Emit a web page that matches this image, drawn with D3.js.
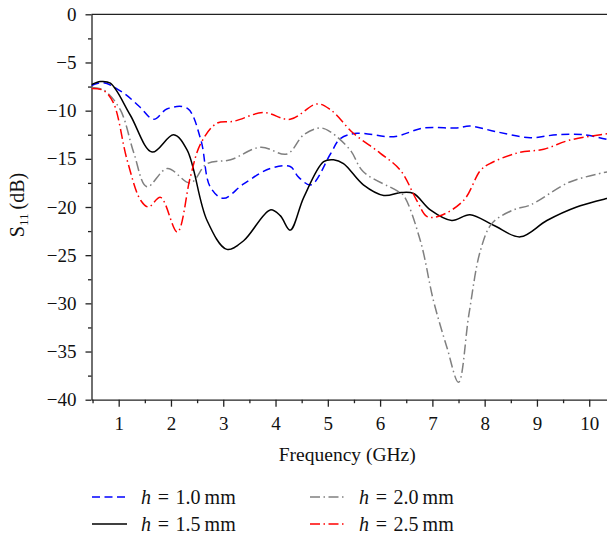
<!DOCTYPE html>
<html>
<head>
<meta charset="utf-8">
<script src="https://cdn.jsdelivr.net/npm/d3@7"></script>
<style>
  body { margin: 0; background: #fff; }
  svg text { font-family: "Liberation Serif", "DejaVu Serif", serif; fill: #111; }
</style>
</head>
<body>
<svg id="chart" width="607" height="537"></svg>
<script>
// S11 vs frequency for four substrate heights

const xTicks = [1, 2, 3, 4, 5, 6, 7, 8, 9, 10];
const yTicks = [0, -5, -10, -15, -20, -25, -30, -35, -40];

// h = 1.0 mm
const freq10 = [0.48, 0.71, 1.1, 1.4, 1.67, 1.93, 2.31, 2.57, 2.75, 3.0, 3.39, 3.9, 4.28, 4.44, 4.68, 5.05, 5.24, 5.56, 6.26, 6.83, 7.47, 7.72, 8.23, 8.87, 9.38, 9.89, 10.35];
const s10 = [-7.4, -7.1, -8.2, -9.6, -10.9, -9.8, -9.75, -13.0, -17.9, -19.1, -17.6, -16.0, -15.8, -16.9, -17.7, -14.5, -12.9, -12.35, -12.7, -11.8, -11.8, -11.6, -12.2, -12.8, -12.5, -12.5, -13.0];

// h = 1.5 mm
const freq15 = [0.48, 0.65, 0.84, 1.22, 1.64, 2.05, 2.31, 2.69, 3.07, 3.39, 3.9, 4.09, 4.28, 4.54, 4.92, 5.11, 5.3, 5.68, 6.07, 6.4, 6.64, 6.96, 7.37, 7.72, 8.17, 8.68, 9.19, 9.76, 10.35];
const s15 = [-7.3, -6.98, -7.15, -10.45, -14.3, -12.5, -14.1, -21.4, -24.4, -23.5, -20.3, -20.9, -22.4, -19.0, -15.3, -15.1, -15.5, -17.7, -18.8, -18.5, -18.6, -20.3, -21.4, -20.8, -21.9, -23.1, -21.4, -20.0, -19.1];

// h = 2.0 mm
const freq20 = [0.48, 0.71, 1.03, 1.29, 1.54, 1.93, 2.37, 2.69, 3.14, 3.71, 4.22, 4.54, 4.86, 5.05, 5.43, 5.68, 6.32, 6.45, 6.77, 7.02, 7.28, 7.5, 7.7, 7.92, 8.14, 8.55, 8.87, 9.63, 10.35];
const s20 = [-7.6, -7.85, -9.9, -14.4, -17.9, -16.0, -17.5, -15.5, -15.1, -13.8, -14.5, -12.5, -11.8, -12.2, -14.1, -16.35, -18.3, -18.8, -23.5, -29.7, -34.6, -38.2, -31.1, -24.5, -21.7, -20.3, -19.8, -17.4, -16.35];

// h = 2.5 mm
const freq25 = [0.48, 0.71, 0.9, 1.16, 1.42, 1.57, 1.8, 2.12, 2.37, 2.57, 2.88, 3.2, 3.77, 4.28, 4.79, 5.05, 5.49, 6.0, 6.39, 6.7, 6.9, 7.15, 7.6, 7.92, 8.1, 8.62, 9.13, 9.63, 10.35];
const s25 = [-7.7, -7.9, -9.2, -15.1, -19.3, -20.0, -19.0, -22.6, -16.9, -13.4, -11.3, -11.1, -10.2, -10.9, -9.3, -9.9, -12.35, -14.4, -16.2, -19.3, -21.0, -20.9, -19.3, -16.2, -15.5, -14.4, -14.0, -13.05, -12.4];

const seriesNames = ["1.0", "1.5", "2.0", "2.5"];

const series = [
  { name: seriesNames[0], f: freq10, v: s10, color: "#0000ff", dash: "8,4.5" },
  { name: seriesNames[1], f: freq15, v: s15, color: "#000000", dash: null },
  { name: seriesNames[2], f: freq20, v: s20, color: "#808080", dash: "10,3.5,1.5,3.5" },
  { name: seriesNames[3], f: freq25, v: s25, color: "#ff0000", dash: "10,3.5,1.5,3.5" }
];

const svg = d3.select("#chart");
const plotL = 91.5, plotR = 607, plotT = 14.3, plotB = 399.7;

const x = d3.scaleLinear().domain([0.48, 10.34]).range([plotL, plotR]);
const y = d3.scaleLinear().domain([-40, 0]).range([plotB, plotT]);

const fmt = d => d < 0 ? "\u2212" + Math.abs(d) : String(d);

// clip
svg.append("defs").append("clipPath").attr("id", "plot")
  .append("rect").attr("x", plotL).attr("y", plotT - 2).attr("width", plotR - plotL).attr("height", plotB - plotT + 4);

// x axis, major + minor
svg.append("g").attr("transform", `translate(0,${plotB})`)
  .call(d3.axisBottom(x).tickValues(xTicks).tickFormat(fmt).tickSize(7).tickSizeOuter(0).tickPadding(10));
svg.append("g").attr("transform", `translate(0,${plotB})`)
  .call(d3.axisBottom(x).tickValues(d3.range(0.5, 10.5, 1)).tickFormat("").tickSize(3.5))
  .call(g => g.select(".domain").remove());

// y axis, major + minor
svg.append("g").attr("transform", `translate(${plotL},0)`)
  .call(d3.axisLeft(y).tickValues(yTicks).tickFormat(fmt).tickSize(6).tickSizeOuter(0).tickPadding(9));
svg.append("g").attr("transform", `translate(${plotL},0)`)
  .call(d3.axisLeft(y).tickValues(d3.range(-37.5, 0, 5)).tickFormat("").tickSize(3.5))
  .call(g => g.select(".domain").remove());

svg.selectAll("g").attr("font-family", null);
svg.selectAll(".tick text").style("font-size", "19px");
svg.selectAll(".domain, .tick line").attr("stroke", "#222").attr("stroke-width", 1.3);

// top frame
svg.append("line")
  .attr("x1", plotL).attr("x2", plotR).attr("y1", plotT).attr("y2", plotT)
  .attr("stroke", "#222").attr("stroke-width", 1.3);

// curves
const line = d3.line()
  .x(d => x(d[0]))
  .y(d => y(d[1]))
  .curve(d3.curveCatmullRom.alpha(0.5));

const plot = svg.append("g").attr("clip-path", "url(#plot)");
series.forEach(s => {
  plot.append("path")
    .datum(s.f.map((f, i) => [f, s.v[i]]))
    .attr("fill", "none")
    .attr("stroke", s.color)
    .attr("stroke-width", 1.5)
    .attr("stroke-dasharray", s.dash)
    .attr("d", line);
});

// axis labels
svg.append("text")
  .attr("x", (plotL + plotR) / 2 - 2).attr("y", 461)
  .attr("text-anchor", "middle").style("font-size", "19.5px")
  .text("Frequency (GHz)");

const yl = svg.append("text")
  .attr("transform", "translate(24,205) rotate(-90)")
  .attr("text-anchor", "middle").style("font-size", "20px");
yl.append("tspan").text("S");
yl.append("tspan").attr("dy", 4).style("font-size", "13px").text("11");
yl.append("tspan").attr("dy", -4).text("\u2009(dB)");

// legend
const legendPos = [
  { x: 92, y: 497 },
  { x: 92, y: 524 },
  { x: 310, y: 497 },
  { x: 310, y: 524 }
];
series.forEach((s, i) => {
  const p = legendPos[i];
  const g = svg.append("g");
  g.append("line")
    .attr("x1", p.x).attr("x2", p.x + 35).attr("y1", p.y).attr("y2", p.y)
    .attr("stroke", s.color).attr("stroke-width", 1.5)
    .attr("stroke-dasharray", s.dash);
  const t = g.append("text").attr("x", p.x + 49).attr("y", p.y + 6.5).style("font-size", "20px");
  t.append("tspan").style("font-style", "italic").text("h");
  t.append("tspan").text("\u2004=\u2004" + s.name + "\u2009mm");
});
</script>
</body>
</html>
